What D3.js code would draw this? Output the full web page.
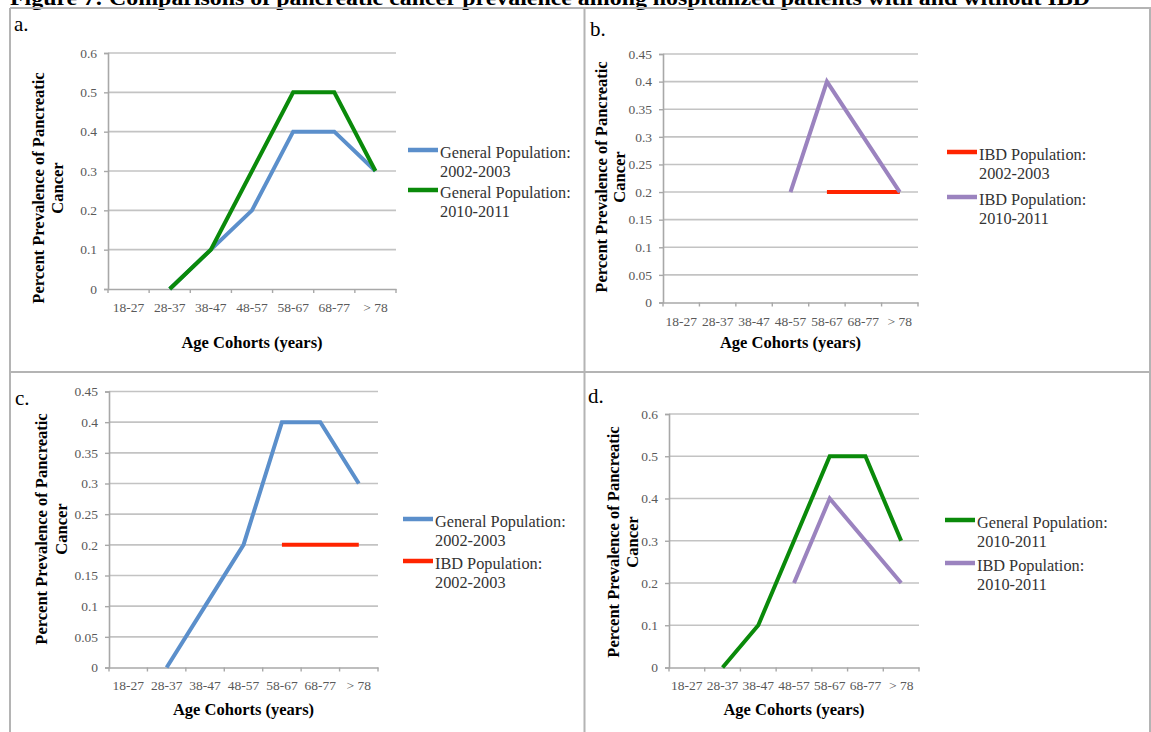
<!DOCTYPE html>
<html>
<head>
<meta charset="utf-8">
<script src="https://cdn.jsdelivr.net/npm/d3@7"></script>
<style>
  body { margin: 0; background: #fff; }
  svg { display: block; font-family: "Liberation Serif", "Times New Roman", serif; }
  .tick-label { fill: #595959; font-size: 13.5px; font-family: "Liberation Serif", "Times New Roman", serif; }
  .axis-title { fill: #000; font-size: 16.5px; font-weight: bold; }
  .legend-text { fill: #333; font-size: 16.3px; }
  .panel-label { fill: #000; font-size: 21px; }
</style>
</head>
<body>
<div id="chart"></div>
<script>
// Data
const ageCohorts = ["18-27", "28-37", "38-47", "48-57", "58-67", "68-77", "> 78"];
const genPop0203 = [null, 0, 0.1, 0.2, 0.4, 0.4, 0.3];
const genPop1011 = [null, 0, 0.1, 0.3, 0.5, 0.5, 0.3];
const ibdPop0203 = [null, null, null, null, 0.2, 0.2, 0.2];
const ibdPop1011 = [null, null, null, 0.2, 0.4, 0.3, 0.2];
const yTicks60 = [0, 0.1, 0.2, 0.3, 0.4, 0.5, 0.6];
const yTicks45 = [0, 0.05, 0.1, 0.15, 0.2, 0.25, 0.3, 0.35, 0.4, 0.45];

const series = {
    gen0203: { name: ["General Population:", "2002-2003"], values: genPop0203, color: "#5b8fcb" },
    gen1011: { name: ["General Population:", "2010-2011"], values: genPop1011, color: "#0a8a0a" },
    ibd0203: { name: ["IBD Population:", "2002-2003"], values: ibdPop0203, color: "#ff2400" },
    ibd1011: { name: ["IBD Population:", "2010-2011"], values: ibdPop1011, color: "#9b83bf" }
};

const width = 1151, height = 732;

const panels = [
    { label: "a.", lx: 14, ly: 31, x0: 108, x1: 396, y0: 53, y1: 289, ticks: yTicks60, max: 0.6,
      keys: ["gen0203", "gen1011"], tx: 44, ty: 188, tgap: 19, xly: 311.5, xty: 348,
      legX: 408, legY: 150, legGap: 40 },
    { label: "b.", lx: 590, ly: 36, x0: 663, x1: 918, y0: 54, y1: 302.5, ticks: yTicks45, max: 0.45,
      keys: ["ibd0203", "ibd1011"], tx: 607, ty: 177, tgap: 18, xly: 326, xty: 348,
      legX: 947, legY: 152, legGap: 45 },
    { label: "c.", lx: 15, ly: 405, x0: 109, x1: 378, y0: 391.5, y1: 667.5, ticks: yTicks45, max: 0.45,
      keys: ["gen0203", "ibd0203"], tx: 47, ty: 529, tgap: 20, xly: 689.5, xty: 715,
      legX: 403, legY: 519, legGap: 42 },
    { label: "d.", lx: 588, ly: 403, x0: 669, x1: 919, y0: 414, y1: 667.5, ticks: yTicks60, max: 0.6,
      keys: ["gen1011", "ibd1011"], tx: 619, ty: 542, tgap: 19, xly: 689.5, xty: 715,
      legX: 945, legY: 520, legGap: 43 }
];

const svg = d3.select("#chart")
    .append("svg")
    .attr("width", width)
    .attr("height", height);

// Figure title, cut by the top edge as in the source
svg.append("text")
    .attr("x", 10)
    .attr("y", 5)
    .attr("font-size", 20)
    .attr("font-weight", "bold")
    .attr("textLength", 1080)
    .attr("lengthAdjust", "spacingAndGlyphs")
    .text("Figure 7: Comparisons of pancreatic cancer prevalence among hospitalized patients with and without IBD");

// Table borders
const border = svg.append("g").attr("stroke", "#b4b4b4").attr("stroke-width", 2);
border.append("line").attr("x1", 10).attr("x2", 1151).attr("y1", 8).attr("y2", 8);
border.append("line").attr("x1", 10).attr("x2", 1151).attr("y1", 372).attr("y2", 372);
border.append("line").attr("x1", 10).attr("x2", 10).attr("y1", 8).attr("y2", height);
border.append("line").attr("x1", 584.5).attr("x2", 584.5).attr("y1", 8).attr("y2", height);
border.append("line").attr("x1", 1150).attr("x2", 1150).attr("y1", 8).attr("y2", height);

panels.forEach(p => {
    const g = svg.append("g");

    const x = d3.scaleBand().domain(ageCohorts).range([p.x0, p.x1]);
    const y = d3.scaleLinear().domain([0, p.max]).range([p.y1, p.y0]);

    g.append("text").attr("class", "panel-label")
        .attr("x", p.lx).attr("y", p.ly).text(p.label);

    // Gridlines
    g.append("g").selectAll("line")
        .data(p.ticks.slice(1))
        .join("line")
        .attr("x1", p.x0).attr("x2", p.x1)
        .attr("y1", d => y(d)).attr("y2", d => y(d))
        .attr("stroke", "#c3c3c3").attr("stroke-width", 1.6);

    // Y axis
    const yAxis = g.append("g")
        .attr("transform", `translate(${p.x0},0)`)
        .call(d3.axisLeft(y).tickValues(p.ticks).tickSize(4).tickPadding(7).tickFormat(d3.format("")))
        .attr("font-family", null).attr("font-size", null);
    yAxis.select(".domain").attr("stroke", "#a8a8a8").attr("stroke-width", 1.6);
    yAxis.selectAll(".tick line").attr("stroke", "#a8a8a8").attr("stroke-width", 1.4);
    yAxis.selectAll(".tick text").attr("class", "tick-label");

    // X axis
    const xAxis = g.append("g")
        .attr("transform", `translate(0,${p.y1})`)
        .call(d3.axisBottom(x).tickSize(0).tickSizeOuter(0).tickPadding(0))
        .attr("font-family", null).attr("font-size", null);
    xAxis.select(".domain").attr("stroke", "#a8a8a8").attr("stroke-width", 1.6);
    xAxis.selectAll(".tick text")
        .attr("class", "tick-label")
        .attr("dy", null)
        .attr("y", p.xly - p.y1);
    // boundary tick marks between cohorts
    xAxis.append("g").selectAll("line")
        .data(d3.range(ageCohorts.length + 1))
        .join("line")
        .attr("x1", i => p.x0 + i * x.step()).attr("x2", i => p.x0 + i * x.step())
        .attr("y1", 0).attr("y2", 4)
        .attr("stroke", "#a8a8a8").attr("stroke-width", 1.4);

    // Axis titles
    g.append("text").attr("class", "axis-title")
        .attr("x", (p.x0 + p.x1) / 2).attr("y", p.xty)
        .attr("text-anchor", "middle")
        .text("Age Cohorts (years)");

    const yt = g.append("text").attr("class", "axis-title")
        .attr("text-anchor", "middle")
        .attr("transform", `translate(${p.tx},${p.ty}) rotate(-90)`);
    yt.append("tspan").attr("x", 0).attr("dy", 0).text("Percent Prevalence of Pancreatic");
    yt.append("tspan").attr("x", 0).attr("dy", p.tgap).text("Cancer");

    // Lines
    const line = d3.line()
        .defined(d => d.v !== null)
        .x(d => x(d.c) + x.bandwidth() / 2)
        .y(d => y(d.v));

    p.keys.forEach(k => {
        const s = series[k];
        g.append("path")
            .datum(ageCohorts.map((c, i) => ({ c, v: s.values[i] })))
            .attr("fill", "none")
            .attr("stroke", s.color)
            .attr("stroke-width", 4)
            .attr("d", line);
    });

    // Legend
    p.keys.forEach((k, i) => {
        const s = series[k];
        const ly = p.legY + i * p.legGap;
        g.append("line")
            .attr("x1", p.legX).attr("x2", p.legX + 30)
            .attr("y1", ly).attr("y2", ly)
            .attr("stroke", s.color).attr("stroke-width", 4.5);
        const t = g.append("text").attr("class", "legend-text")
            .attr("x", p.legX + 32).attr("y", ly + 8);
        t.append("tspan").attr("x", p.legX + 32).text(s.name[0]);
        t.append("tspan").attr("x", p.legX + 32).attr("dy", 19).text(s.name[1]);
    });
});
</script>
</body>
</html>
